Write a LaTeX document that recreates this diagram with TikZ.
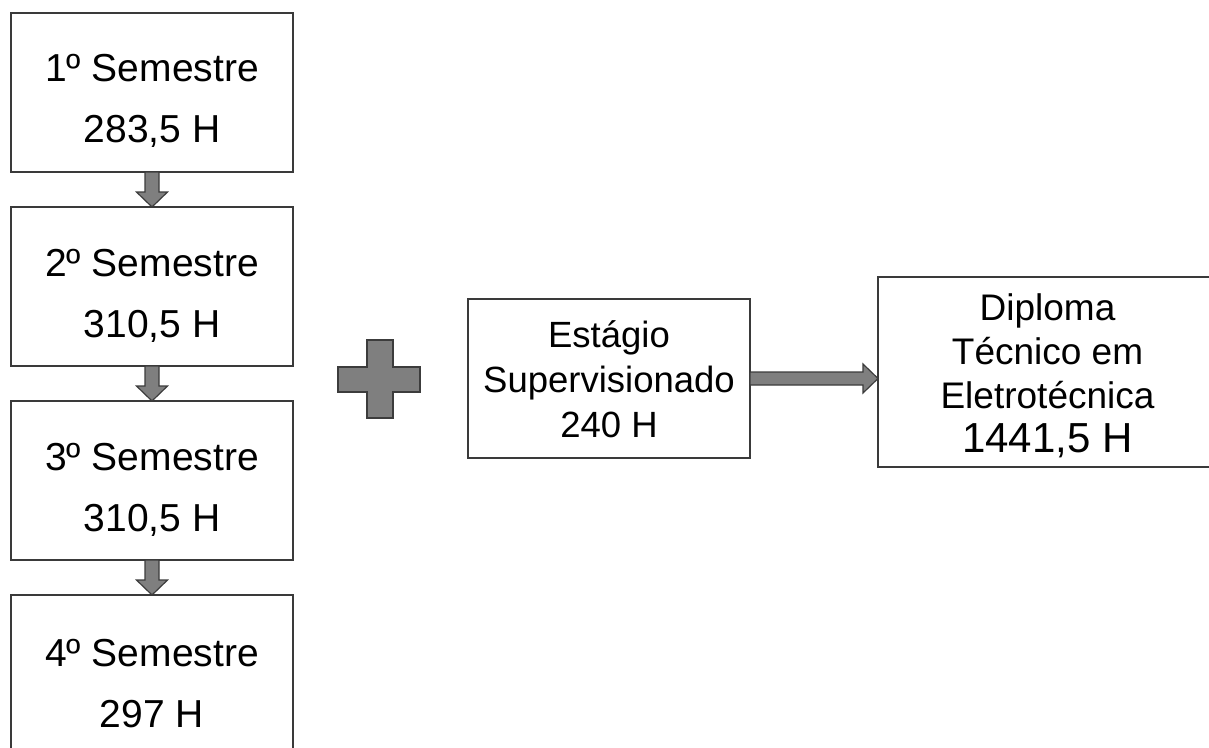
\documentclass[tikz,border=0pt]{standalone}
\usepackage{fontspec}
\setmainfont{Liberation Sans}
\usetikzlibrary{calc}
\definecolor{arrfill}{HTML}{7F7F7F}
\definecolor{arrdraw}{HTML}{3C3C3C}
\definecolor{boxdraw}{HTML}{3A3A3A}
\newcommand\varrowdraw[2]{%
  \draw[blockarrow] ($(#1.south)+(-7pt,0)$) -- ($(#2.north)+(-7pt,15pt)$) -- ($(#2.north)+(-15.5pt,15pt)$) -- (#2.north) -- ($(#2.north)+(15.5pt,15pt)$) -- ($(#2.north)+(7pt,15pt)$) -- ($(#1.south)+(7pt,0)$) -- cycle;}
\begin{document}
\begin{tikzpicture}[x=1pt,y=-1pt,
  box/.style={draw=boxdraw,line width=1.3pt,fill=white,minimum width=282pt,minimum height=159pt,inner sep=0pt,outer sep=0pt,anchor=center},
  semtxt/.style={align=center,font=\fontsize{39}{61}\selectfont,inner sep=0pt},
  esttxt/.style={align=center,font=\fontsize{36.5}{45}\selectfont,inner sep=0pt},
  diptxt/.style={align=center,font=\fontsize{37}{44}\selectfont,inner sep=0pt},
  blockarrow/.style={fill=arrfill,draw=arrdraw,line width=1.2pt,line join=miter}]
\useasboundingbox (0,0) rectangle (1209,747);
\fill[white] (0,0) rectangle (1209,747);

\node[box] (s1) at (152,92.5) {};
\node[box] (s2) at (152,286.5) {};
\node[box] (s3) at (152,480.5) {};
\node[box] (s4) at (152,674.5) {};
\node[semtxt] (t1) at ($(s1.center)+(0,-8pt)$) {1º Semestre\\283,5 H};
\node[semtxt] (t2) at ($(s2.center)+(0,-9pt)$) {2º Semestre\\310,5 H};
\node[semtxt] (t3) at ($(s3.center)+(0,-9pt)$) {3º Semestre\\310,5 H};
\node[semtxt] (t4) at ($(s4.center)+(0,-9pt)$) {4º Semestre\\297 H};

\varrowdraw{s1}{s2}
\varrowdraw{s2}{s3}
\varrowdraw{s3}{s4}

\draw[blockarrow] (367,340) -- (393,340) -- (393,367) -- (420,367) -- (420,392) -- (393,392) -- (393,418) -- (367,418) -- (367,392) -- (338,392) -- (338,367) -- (367,367) -- cycle;

\node[box] (e) at (609,378.5) {};
\node[esttxt] (et) at ($(e.center)+(0,-1pt)$) {Estágio\\Supervisionado\\240 H};
\node[box,minimum width=339pt,minimum height=190pt] (d) at (1047.5,372) {};
\node[diptxt] (dt) at ($(d.center)+(0,-4pt)$) {Diploma\\Técnico em\\Eletrotécnica\\{\fontsize{42}{44}\selectfont 1441,5 H}};

\coordinate (tip) at (e.east -| d.west);
\draw[blockarrow] ($(e.east)+(0,6.5pt)$) -- ($(tip)+(-15pt,6.5pt)$) -- ($(tip)+(-15pt,14.5pt)$) -- (tip) -- ($(tip)+(-15pt,-14.5pt)$) -- ($(tip)+(-15pt,-6.5pt)$) -- ($(e.east)+(0,-6.5pt)$) -- cycle;
\end{tikzpicture}
\end{document}
